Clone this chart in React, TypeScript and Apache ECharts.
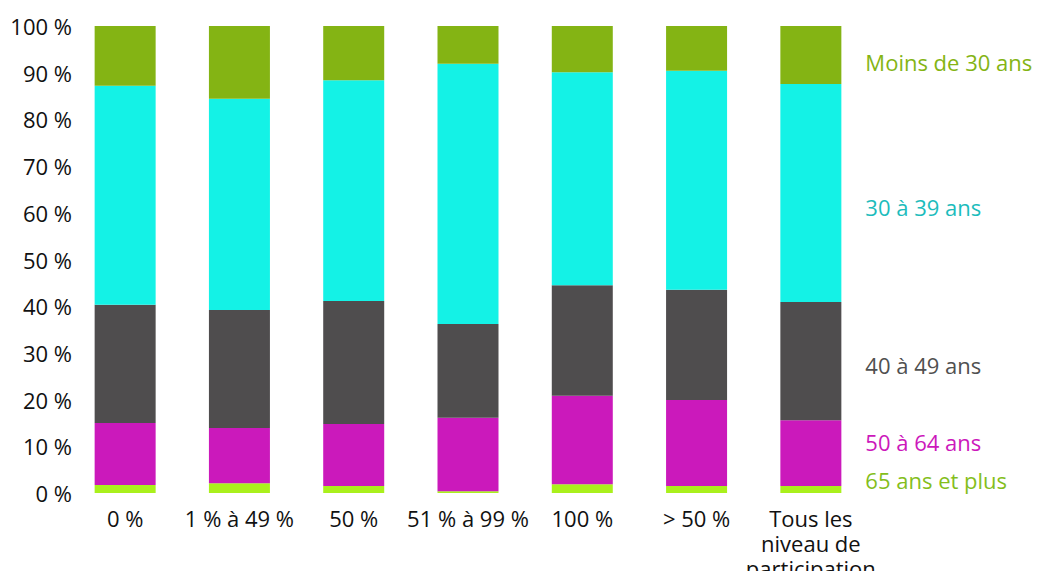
import React, { useEffect, useRef } from "react";
import * as echarts from "echarts";

// Participation levels (x categories)
const categories = [
  "0 %",
  "1 % à 49 %",
  "50 %",
  "51 % à 99 %",
  "100 %",
  "> 50 %",
  "Tous les\nniveau de\nparticipation",
];

// Share of each age group per participation level (%)
const plus65 = [1.7, 2.1, 1.5, 0.4, 1.9, 1.5, 1.5];
const age50to64 = [13.3, 11.8, 13.3, 15.7, 18.9, 18.4, 14.1];
const age40to49 = [25.3, 25.3, 26.3, 20.1, 23.7, 23.6, 25.3];
const age30to39 = [46.9, 45.2, 47.3, 55.7, 45.6, 46.9, 46.7];
const under30 = [12.8, 15.6, 11.6, 8.1, 9.9, 9.6, 12.4];

const yTicks = [0, 10, 20, 30, 40, 50, 60, 70, 80, 90, 100];

const FONT = "'Open Sans', 'Noto Sans', sans-serif";
const FONT_SIZE = 22;

type SeriesDef = {
  name: string;
  data: number[];
  color: string;
  labelColor: string;
  dy: number;
};

const seriesDefs: SeriesDef[] = [
  { name: "65 ans et plus", data: plus65, color: "#aaf01c", labelColor: "#84be1c", dy: -9 },
  { name: "50 à 64 ans", data: age50to64, color: "#cb19bb", labelColor: "#cc18bb", dy: -11 },
  { name: "40 à 49 ans", data: age40to49, color: "#4f4d4e", labelColor: "#505050", dy: 4 },
  { name: "30 à 39 ans", data: age30to39, color: "#14f2e6", labelColor: "#1cbcbc", dy: 14 },
  { name: "Moins de 30 ans", data: under30, color: "#84b414", labelColor: "#84b414", dy: 7 },
];

export default function App() {
  const ref = useRef<HTMLDivElement>(null);

  useEffect(() => {
    if (!ref.current) return;
    const chart = echarts.init(ref.current, undefined, { renderer: "svg" });
    const last = categories.length - 1;

    chart.setOption({
      animation: false,
      backgroundColor: "#ffffff",
      textStyle: { fontFamily: FONT },
      grid: {
        left: 68,
        right: 176,
        top: 26,
        bottom: 78,
        containLabel: false,
        outerBoundsMode: "none",
      },
      xAxis: {
        type: "category",
        data: categories,
        axisLine: { show: false },
        axisTick: { show: false },
        axisLabel: {
          color: "#111111",
          fontSize: FONT_SIZE,
          fontFamily: FONT,
          margin: 12,
          lineHeight: 25,
          interval: 0,
        },
      },
      yAxis: {
        type: "value",
        min: 0,
        max: 100,
        interval: 10,
        splitLine: { show: false },
        axisLine: { show: false },
        axisTick: { show: false },
        axisLabel: {
          color: "#111111",
          fontSize: FONT_SIZE,
          fontFamily: FONT,
          margin: -4,
          formatter: (v: number) => (yTicks.includes(v) ? `${v} %` : ""),
        },
      },
      series: seriesDefs.map((s) => ({
        name: s.name,
        type: "bar",
        stack: "total",
        barWidth: 61,
        itemStyle: { color: s.color },
        data: s.data.map((v, i) =>
          i === last
            ? {
                value: v,
                label: {
                  show: true,
                  position: "right",
                  distance: 24,
                  offset: [0, s.dy],
                  formatter: s.name,
                  color: s.labelColor,
                  fontSize: FONT_SIZE,
                  fontFamily: FONT,
                },
              }
            : v
        ),
      })),
    });

    return () => chart.dispose();
  }, []);

  return (
    <div
      ref={ref}
      style={{ position: "fixed", left: 0, top: 0, width: 1044, height: 571 }}
    />
  );
}
